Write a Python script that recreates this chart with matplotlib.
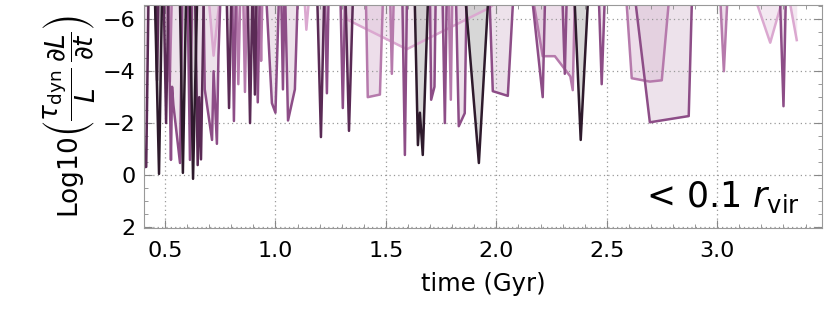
import numpy as np
import matplotlib
matplotlib.use('Agg')
import matplotlib.pyplot as plt
from matplotlib.ticker import MultipleLocator

plt.rcParams['font.family'] = ['DejaVu Sans']
plt.rcParams['mathtext.fontset'] = 'dejavusans'

T = -6.6  # value just above the frame (log10 very small)

# darkest series
t_a = [0.44, 0.455, 0.473, 0.486, 0.568, 0.581, 0.595, 0.613, 0.627, 0.645,
       1.631, 1.645, 1.654, 1.667, 1.69, 1.862, 1.921, 1.962, 2.355, 2.382, 2.414]
y_a = [T, T, -0.04, T, T, -0.08, T, T, 0.15, T,
       T, -1.15, -2.4, -0.77, T, T, -0.46, T, T, -1.35, T]

# dark purple
t_b = [0.40, 0.405, 0.415, 0.425, 0.458, 0.464, 0.47, 0.495, 0.505, 0.515,
       0.637, 0.648, 0.655, 0.663, 0.675, 0.78, 0.79, 0.80, 0.875, 0.885, 0.895,
       0.90, 0.907, 0.914, 1.19, 1.206, 1.22, 1.318, 1.333, 1.35]
y_b = [T, -0.3, -0.31, T, T, -3.65, T, T, -2.0, T,
       T, -0.38, -3.0, -0.6, T, T, -2.58, T, T, -2.0, T,
       T, -3.1, T, T, -1.46, T, T, -1.7, T]

# medium purple
t_c = [0.515, 0.527, 0.532, 0.538, 0.568, 0.578, 0.603, 0.613, 0.622,
       0.675, 0.68, 0.713, 0.72, 0.735, 0.742, 0.75,
       0.805, 0.812, 0.82, 0.912, 0.92, 0.928,
       0.96, 0.984, 1.0, 1.015, 1.027, 1.034, 1.04, 1.045, 1.057, 1.088, 1.1,
       1.225, 1.233, 1.24, 1.295, 1.305, 1.315, 1.575, 1.586, 1.595,
       1.70, 1.705, 1.72, 1.725, 1.757, 1.767, 1.775, 1.818, 1.83, 1.857, 1.865,
       1.97, 1.984, 2.052, 2.075, 2.165, 2.21, 2.22, 2.3, 2.31, 2.318, 2.465, 2.477, 2.49,
       2.631, 2.695, 2.871, 2.885, 3.285, 3.3, 3.31, 3.35]
y_c = [T, -0.58, -3.4, -2.7, -0.46, T, T, -0.58, T,
       T, -3.3, -1.35, -4.0, -1.2, -4.6, T,
       T, -2.08, T, T, -2.8, T,
       T, -2.77, -2.4, T, T, -3.3, T, T, -2.1, -3.3, T,
       T, -3.15, T, T, -2.58, T, T, -0.77, T,
       T, -2.9, -3.4, T, T, -2.0, T, T, -1.88, -2.38, T,
       T, -3.23, -3.05, T, T, -3.0, T, T, -3.9, T, T, -3.5, T,
       T, -2.03, -2.27, T, T, -2.65, T, T]

# light purple
t_d = [0.51, 0.522, 0.53, 0.825, 0.832, 0.84, 0.855, 0.862, 0.87,
       0.93, 0.935, 0.94, 1.41, 1.418, 1.473, 1.486,
       1.52, 1.527, 1.535, 1.785, 1.794, 1.8,
       2.17, 2.21, 2.265, 2.335, 2.346, 2.355,
       2.59, 2.613, 2.695, 2.749, 2.78, 3.015, 3.03, 3.045, 3.1]
y_d = [T, -3.6, T, T, -3.5, T, T, -3.2, T,
       T, -4.4, T, T, -3.0, -3.1, T,
       T, -3.9, T, T, -2.9, T,
       T, -4.58, -4.58, -3.8, -3.27, T,
       T, -3.73, -3.6, -3.65, T, T, -4.0, T, T]

# lightest pink
t_e = [0.70, 0.72, 0.745, 1.133, 1.14, 1.15, 1.31, 1.323, 1.595, 1.97, 1.99,
       3.18, 3.24, 3.29, 3.33, 3.36]
y_e = [T, -4.6, T, T, -5.6, T, T, -6.0, -4.85, -6.45, T,
       T, -5.1, T, T, -5.2]

series = [(t_e, y_e, '#dba8d0', '#ecd9e8', 0.6),
          (t_d, y_d, '#b67aac', '#dcbfd6', 0.5),
          (t_c, y_c, '#8d4d87', '#dcc6d8', 0.5),
          (t_b, y_b, '#5a2a55', '#c9a9c4', 0.4),
          (t_a, y_a, '#2e1a2c', '#bdbdbd', 0.6)]

fig = plt.figure(figsize=(8.3, 3.19), dpi=100)
ax = fig.add_axes([0.1735, 0.285, 0.8165, 0.699])

for t, y, c, fc, a in series:
    ax.fill_between(t, y, T, color=fc, alpha=a, lw=0)
    ax.plot(t, y, color=c, lw=1.8)

ax.set_xlim(0.405, 3.473)
ax.set_ylim(2.05, -6.55)
ax.set_xticks([0.5, 1.0, 1.5, 2.0, 2.5, 3.0])
ax.set_yticks([-6, -4, -2, 0, 2])
ax.xaxis.set_minor_locator(MultipleLocator(0.1))
ax.yaxis.set_minor_locator(MultipleLocator(0.5))
ax.tick_params(which='both', direction='in', top=True, right=True, color='#888888',
               labelsize=16)
ax.tick_params(which='major', length=6)
ax.tick_params(axis='x', which='major', pad=9)
ax.tick_params(axis='y', which='major', pad=6)
ax.tick_params(which='minor', length=3)
for s in ax.spines.values():
    s.set_color('#999999')
ax.grid(True, which='major', ls=(0, (1, 2.5)), color='#999999', lw=0.9)

ax.set_xlabel('time (Gyr)', fontsize=17.5, labelpad=8)
ax.set_ylabel(r'Log10$\left(\dfrac{\tau_{\mathrm{dyn}}}{L}\,\dfrac{\partial L}{\partial t}\right)$',
              fontsize=19, labelpad=4)
ax.text(0.968, 0.094, r'< 0.1 $r_{\mathrm{vir}}$', transform=ax.transAxes,
        ha='right', va='baseline', fontsize=25)

fig.savefig('out.png', dpi=100)
